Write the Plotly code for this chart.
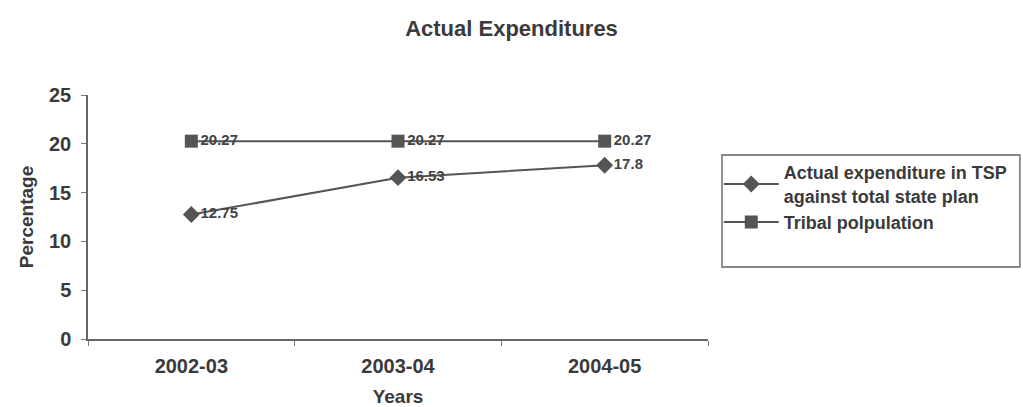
import plotly.graph_objects as go

years = ["2002-03", "2003-04", "2004-05"]
tsp_expenditure = [12.75, 16.53, 17.8]
tribal_population = [20.27, 20.27, 20.27]

line_color = "#555555"
text_color = "#3a3a3a"
font_family = "Liberation Sans, Arial, sans-serif"

fig = go.Figure()

fig.add_trace(go.Scatter(
    x=years, y=tsp_expenditure, name="<b>Actual expenditure in TSP<br>against total state plan</b>",
    mode="lines+markers+text",
    line=dict(color=line_color, width=2),
    marker=dict(symbol="diamond", size=13, color=line_color),
    text=[f"<b>{v}</b>" for v in tsp_expenditure], textposition="middle right",
    textfont=dict(size=15, color="#444444", family=font_family),
))

fig.add_trace(go.Scatter(
    x=years, y=tribal_population, name="<b>Tribal polpulation</b>",
    mode="lines+markers+text",
    line=dict(color=line_color, width=2),
    marker=dict(symbol="square", size=13, color=line_color),
    text=[f"<b>{v}</b>" for v in tribal_population], textposition="middle right",
    textfont=dict(size=15, color="#444444", family=font_family),
))

# Legend frame spanning to the page edge
fig.add_shape(type="rect", xref="paper", yref="paper",
              x0=1.0226, x1=1.503, y0=0.295, y1=0.754,
              line=dict(color="#888888", width=1.8), fillcolor="rgba(0,0,0,0)")

fig.update_layout(
    width=1023, height=407,
    margin=dict(l=88, r=315, t=95, b=68, autoexpand=False),
    paper_bgcolor="white", plot_bgcolor="white",
    font=dict(family=font_family, color=text_color),
    title=dict(text="<b>Actual Expenditures</b>", x=0.5, xref="container", xanchor="center",
               y=0.931, yref="container", yanchor="middle",
               font=dict(size=22, color=text_color)),
    showlegend=True,
    legend=dict(x=1.0174, y=0.758, xanchor="left", yanchor="top",
                font=dict(size=18, color=text_color, family=font_family),
                bgcolor="rgba(0,0,0,0)", borderwidth=0,
                itemwidth=55),
)

fig.update_xaxes(
    type="category", range=[-0.5, 2.5], automargin=False,
    showline=True, linecolor="#666666", linewidth=1.5,
    ticks="outside", tickson="boundaries", ticklen=5, tickcolor="#777777",
    tickfont=dict(size=20, color=text_color, family=font_family),
    tickprefix="<b>", ticksuffix="</b>", ticklabelstandoff=8,
    title=dict(text="<b>Years</b>", font=dict(size=19, color=text_color), standoff=17),
    showgrid=False, zeroline=False,
)

fig.update_yaxes(
    range=[0, 25], dtick=5, automargin=False,
    showline=True, linecolor="#666666", linewidth=1.5,
    ticks="outside", ticklen=5, tickcolor="#777777",
    tickfont=dict(size=20, color=text_color, family=font_family),
    tickprefix="<b>", ticksuffix="</b>", ticklabelstandoff=6,
    title=dict(text="<b>Percentage</b>", font=dict(size=19, color=text_color), standoff=10),
    showgrid=False, zeroline=False,
)

fig.write_html("out.html")
